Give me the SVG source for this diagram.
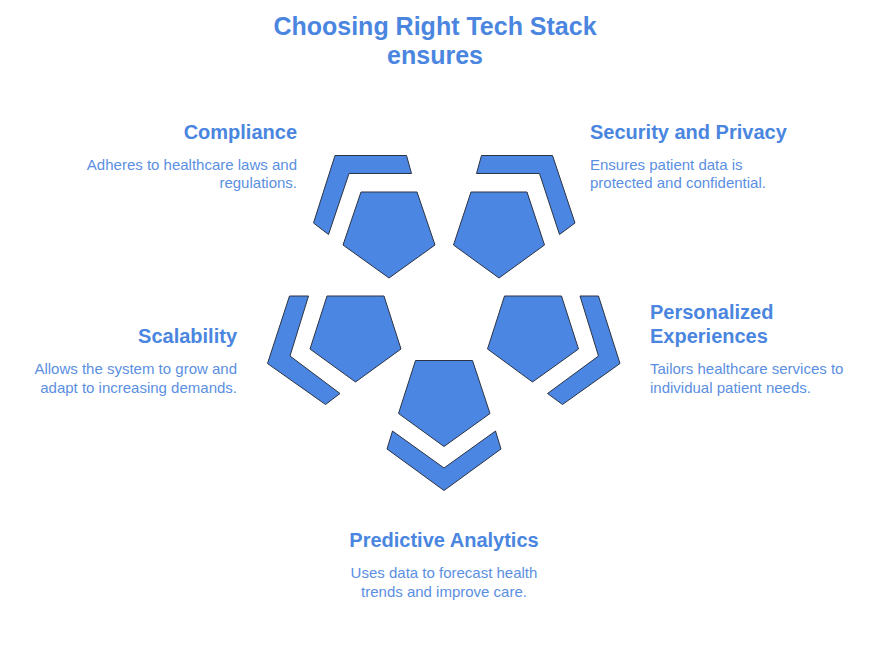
<svg xmlns="http://www.w3.org/2000/svg" width="876" height="648" viewBox="0 0 876 648">
<style>
.shape{fill:#4b86e2;stroke:#2b3445;stroke-width:1;stroke-linejoin:miter}
.title{font-family:"Liberation Sans",Arial,sans-serif;font-weight:bold;font-size:25px;fill:#4a86e0}
.head{font-family:"Liberation Sans",Arial,sans-serif;font-weight:bold;font-size:20px;fill:#4a86e0}
.body{font-family:"Liberation Sans",Arial,sans-serif;font-size:15px;fill:#5b8fe2}
</style>
<rect width="876" height="648" fill="#ffffff"/>
<g id="title">
<text class="title" x="435" y="35" text-anchor="middle">Choosing Right Tech Stack</text>
<text class="title" x="435" y="64" text-anchor="middle">ensures</text>
</g>
<g id="compliance">
<polygon class="shape" points="361,192 417,192 435,245 389,278 343,245"/>
<polygon class="shape" points="335,155.5 406.5,155.5 411.5,173.5 349,173.5 328.5,234.5 313.5,223"/>
<text class="head" x="297" y="139" text-anchor="end">Compliance</text>
<text class="body" x="297" y="169.5" text-anchor="end">Adheres to healthcare laws and</text>
<text class="body" x="297" y="188" text-anchor="end">regulations.</text>
</g>
<g id="security">
<polygon class="shape" points="471,192 527,192 544.5,245 499,278 453.5,245"/>
<polygon class="shape" points="481.5,155.5 552.5,155.5 575,223 559.5,234.5 539.5,173.5 476.5,173.5"/>
<text class="head" x="590" y="139">Security and Privacy</text>
<text class="body" x="590" y="169.5">Ensures patient data is</text>
<text class="body" x="590" y="188">protected and confidential.</text>
</g>
<g id="scalability">
<polygon class="shape" points="327,296 384,296 401,349 355.5,382 310,349"/>
<polygon class="shape" points="289.5,296 308.5,296 290,356 340,393.5 325.5,404.5 267.5,363.5"/>
<text class="head" x="237" y="343" text-anchor="end">Scalability</text>
<text class="body" x="237" y="374" text-anchor="end">Allows the system to grow and</text>
<text class="body" x="237" y="392.5" text-anchor="end">adapt to increasing demands.</text>
</g>
<g id="personalized">
<polygon class="shape" points="504.5,296 561.5,296 578.5,349 532.5,382 487.5,349"/>
<polygon class="shape" points="580,296 598.5,296 620,363.5 562.5,404.5 547.5,393.5 598.5,356"/>
<text class="head" x="650" y="319">Personalized</text>
<text class="head" x="650" y="342.5">Experiences</text>
<text class="body" x="650" y="374">Tailors healthcare services to</text>
<text class="body" x="650" y="392.5">individual patient needs.</text>
</g>
<g id="predictive">
<polygon class="shape" points="415.5,360.5 472.5,360.5 490,413.5 444,446.5 398.5,413.5"/>
<polygon class="shape" points="392.5,431 444,468 495.5,431 501,449 444,490.5 387,449"/>
<text class="head" x="444" y="547" text-anchor="middle">Predictive Analytics</text>
<text class="body" x="444" y="578" text-anchor="middle">Uses data to forecast health</text>
<text class="body" x="444" y="596.5" text-anchor="middle">trends and improve care.</text>
</g>
<g id="connectors"></g>
</svg>
